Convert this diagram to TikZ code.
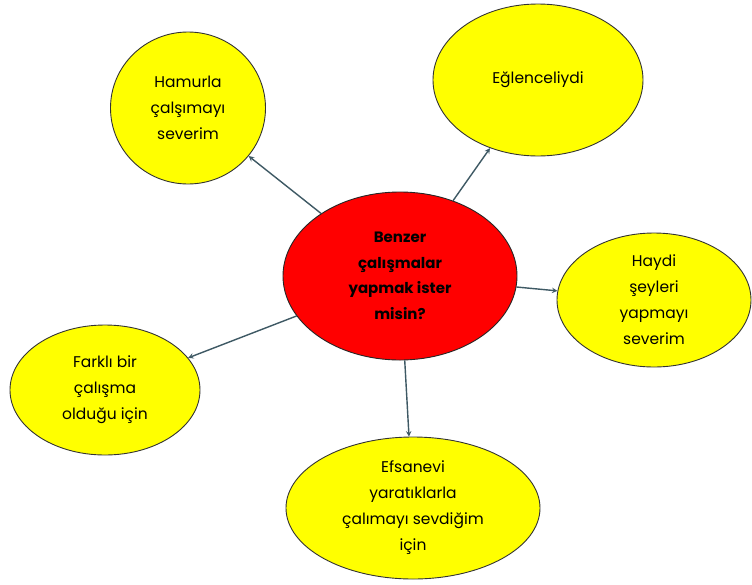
\documentclass[tikz,border=0pt]{standalone}
\usepackage{fontspec}
\setmainfont{Poppins}
\usetikzlibrary{shapes.geometric}
\definecolor{okgri}{HTML}{3E5964}
\definecolor{sari}{HTML}{FFFF00}
\definecolor{kirmizi}{HTML}{FF0000}
\tikzset{
  fikir/.style={ellipse,draw=black!80,line width=0.9pt,fill=sari,inner sep=0pt,align=center},
  soru/.style={ellipse,draw=black!85,line width=0.9pt,fill=kirmizi,inner sep=0pt,align=center,font=\fontsize{15}{25.5}\selectfont\bfseries},
  ok/.style={->,draw=okgri,line width=1.4pt}
}
\begin{document}
\begin{tikzpicture}[>=stealth,x=1pt,y=-1pt,font=\fontsize{15.5}{26}\selectfont]
  \useasboundingbox[fill=white] (0,0) rectangle (752,584);
  % merkez
  \node[soru,minimum width=234,minimum height=168] (merkez) at (400,276) {Benzer\\çalışmalar\\yapmak ister\\misin?};
  % fikirler
  \node[fikir,minimum width=155,minimum height=152] (hamur) at (188,108) {Hamurla\\çalşımayı\\severim};
  \node[fikir,minimum width=210,minimum height=152] (eglence) at (538,80) {Eğlenceliydi};
  \node[fikir,minimum width=194,minimum height=134] (hayal) at (654,300) {Haydi\\şeyleri\\yapmayı\\severim};
  \node[fikir,minimum width=190,minimum height=130] (farkli) at (105,390) {Farklı bir\\çalışma\\olduğu için};
  \node[fikir,minimum width=254,minimum height=142] (efsane) at (413,508) {Efsanevi\\yaratıklarla\\çalımayı sevdiğim\\için};
  % oklar
  \draw[ok] (merkez) -- (hamur);
  \draw[ok] (merkez) -- (eglence);
  \draw[ok] (merkez) -- (hayal);
  \draw[ok] (merkez) -- (farkli);
  \draw[ok] (merkez) -- (efsane);
\end{tikzpicture}
\end{document}
